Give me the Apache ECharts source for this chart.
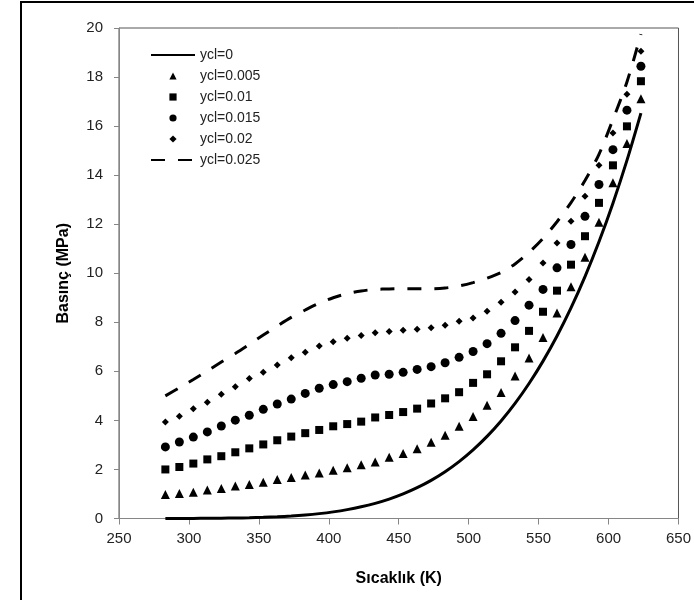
<!DOCTYPE html>
<html>
<head>
<meta charset="utf-8">
<script src="https://cdn.jsdelivr.net/npm/echarts@6/dist/echarts.min.js"></script>
<style>
html,body{margin:0;padding:0;background:#fff;}
#chart{width:694px;height:600px;}
</style>
</head>
<body>
<div id="chart"></div>
<script>
// Temperatures (K)
const temps = [283.15,293.15,303.15,313.15,323.15,333.15,343.15,353.15,363.15,373.15,383.15,393.15,403.15,413.15,423.15,433.15,443.15,453.15,463.15,473.15,483.15,493.15,503.15,513.15,523.15,533.15,543.15,553.15,563.15,573.15,583.15,593.15,603.15,613.15,623.15];
// Pressure (MPa) for each ycl
const ycl0 = [0.0012,0.0023,0.0042,0.0074,0.0124,0.0199,0.0312,0.0474,0.0701,0.1014,0.1434,0.1987,0.2703,0.3615,0.4762,0.6182,0.7922,1.0028,1.2552,1.5549,1.9077,2.3196,2.7971,3.3469,3.9762,4.6923,5.5030,6.4166,7.4418,8.5879,9.8651,11.284,12.858,14.601,16.529];
const ycl005 = [0.98,1.02,1.07,1.16,1.22,1.33,1.39,1.48,1.59,1.67,1.77,1.86,1.97,2.07,2.19,2.30,2.50,2.65,2.84,3.11,3.39,3.76,4.16,4.62,5.14,5.81,6.54,7.38,8.38,9.45,10.65,12.08,13.69,15.29,17.12];
const ycl01 = [2.00,2.10,2.24,2.41,2.54,2.70,2.86,3.02,3.19,3.34,3.48,3.61,3.76,3.85,3.95,4.12,4.22,4.34,4.48,4.69,4.90,5.15,5.53,5.88,6.41,6.98,7.65,8.43,9.29,10.35,11.51,12.87,14.40,15.99,17.83];
const ycl015 = [2.92,3.12,3.32,3.53,3.77,4.01,4.21,4.45,4.67,4.87,5.10,5.31,5.46,5.58,5.72,5.85,5.88,5.96,6.08,6.19,6.35,6.57,6.81,7.13,7.55,8.07,8.70,9.34,10.22,11.17,12.32,13.62,15.04,16.65,18.44];
const ycl02 = [3.93,4.17,4.47,4.74,5.07,5.37,5.71,5.96,6.26,6.55,6.78,7.03,7.21,7.35,7.46,7.57,7.62,7.68,7.72,7.78,7.88,8.04,8.18,8.45,8.82,9.24,9.75,10.42,11.23,12.12,13.14,14.40,15.72,17.30,19.05];
const ycl025 = [5.00,5.33,5.67,6.02,6.38,6.73,7.10,7.48,7.85,8.20,8.50,8.78,9.00,9.17,9.28,9.34,9.36,9.37,9.37,9.37,9.40,9.48,9.62,9.80,10.03,10.38,10.85,11.42,12.10,12.88,13.78,14.85,16.27,17.80,19.75];

const seriesNames = ['ycl=0','ycl=0.005','ycl=0.01','ycl=0.015','ycl=0.02','ycl=0.025'];
const xTitle = 'Sıcaklık (K)';
const yTitle = 'Basınç (MPa)';

function pairs(vals){ return temps.map((t,i)=>[t, vals[i]]); }

const chart = echarts.init(document.getElementById('chart'), null, {renderer:'canvas'});
const axisColor = '#868686';
const labelFont = 'Liberation Sans';

function markerSeries(name, vals, symbol, size){
  return {
    name, type:'line', data: pairs(vals), symbol, symbolSize: size,
    showSymbol:true, showAllSymbol:true,
    itemStyle:{color:'#000', opacity:1},
    lineStyle:{opacity:0, width:0},
    z:3
  };
}

chart.setOption({
  animation:false,
  backgroundColor:'#fff',
  graphic:[{
    type:'rect', shape:{x:21, y:2, width:800, height:800},
    style:{fill:'none', stroke:'#000', lineWidth:2}, z:-1
  }],
  grid:{left:119, right:11, top:28, bottom:81.5, show:true, borderColor:'#555', borderWidth:1},
  legend:{
    orient:'vertical', left:145, top:43,
    itemWidth:44, itemHeight:9, itemGap:7,
    textStyle:{fontSize:14, color:'#222', fontFamily:labelFont},
    data:[
      {name:seriesNames[0], itemStyle:{opacity:0}},
      {name:seriesNames[1]},
      {name:seriesNames[2]},
      {name:seriesNames[3]},
      {name:seriesNames[4]},
      {name:seriesNames[5], itemStyle:{opacity:0}}
    ]
  },
  xAxis:{
    type:'value', min:250, max:650, interval:50,
    axisLine:{show:true, onZero:false, lineStyle:{color:axisColor, width:1}},
    axisTick:{show:true, length:6, lineStyle:{color:axisColor}},
    axisLabel:{fontSize:15, color:'#222', margin:13, fontFamily:labelFont},
    splitLine:{show:false},
    name:xTitle, nameLocation:'middle', nameGap:52,
    nameTextStyle:{fontSize:16, fontWeight:'bold', color:'#000', fontFamily:labelFont}
  },
  yAxis:{
    type:'value', min:0, max:20, interval:2,
    axisLine:{show:true, onZero:false, lineStyle:{color:axisColor, width:1}},
    axisTick:{show:true, length:5, lineStyle:{color:axisColor}},
    axisLabel:{fontSize:15, color:'#222', margin:16, fontFamily:labelFont},
    splitLine:{show:false},
    name:yTitle, nameLocation:'middle', nameGap:47,
    nameTextStyle:{fontSize:16, fontWeight:'bold', color:'#000', fontFamily:labelFont}
  },
  series:[
    {
      name:seriesNames[0], type:'line', data:pairs(ycl0), symbol:'none', smooth:0.3,
      itemStyle:{color:'#000'},
      lineStyle:{color:'#000', width:3}, z:2
    },
    markerSeries(seriesNames[1], ycl005, 'triangle', 9),
    markerSeries(seriesNames[2], ycl01, 'rect', 8),
    markerSeries(seriesNames[3], ycl015, 'circle', 9),
    markerSeries(seriesNames[4], ycl02, 'diamond', 7),
    {
      name:seriesNames[5], type:'line', data:pairs(ycl025), symbol:'none', smooth:0.3,
      itemStyle:{color:'#000'},
      lineStyle:{color:'#000', width:3, type:[14,13]}, z:2
    }
  ]
});
</script>
</body>
</html>
